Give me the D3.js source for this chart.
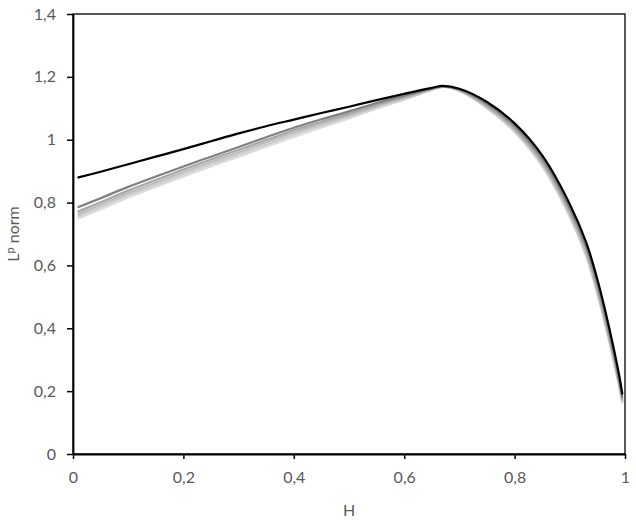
<!DOCTYPE html>
<html>
<head>
<meta charset="utf-8">
<script src="https://cdn.jsdelivr.net/npm/d3@7"></script>
<style>
  html, body { margin: 0; padding: 0; background: #fff; }
  svg { display: block; }
  text { font-family: Lato, "Open Sans", "Liberation Sans", sans-serif; fill: #595959; }
</style>
</head>
<body>
<svg id="chart" width="636" height="525"></svg>
<script>
// ---- Data ----
const H = [0.01,0.05,0.1,0.15,0.2,0.25,0.3,0.35,0.4,0.45,0.5,0.55,0.6,0.65,0.67,0.7,0.75,0.8,0.85,0.9,0.93,0.95,0.97,0.99,0.995];

const seriesBlack = [0.880,0.898,0.922,0.946,0.970,0.995,1.020,1.043,1.064,1.085,1.105,1.126,1.146,1.165,1.171,1.162,1.120,1.052,0.950,0.795,0.672,0.555,0.412,0.245,0.192];
const seriesDarkGray = [0.786,0.814,0.850,0.883,0.915,0.946,0.977,1.008,1.038,1.065,1.090,1.117,1.140,1.163,1.170,1.160,1.114,1.044,0.940,0.783,0.658,0.541,0.398,0.232,0.182];
const seriesGray1 = [0.772,0.801,0.838,0.872,0.905,0.937,0.968,0.999,1.030,1.057,1.083,1.111,1.136,1.161,1.169,1.158,1.108,1.036,0.930,0.771,0.646,0.527,0.384,0.222,0.175];
const seriesGray2 = [0.764,0.793,0.830,0.864,0.897,0.929,0.960,0.992,1.023,1.051,1.078,1.107,1.133,1.160,1.169,1.157,1.105,1.032,0.925,0.765,0.639,0.520,0.378,0.217,0.171];
const seriesGray3 = [0.757,0.786,0.823,0.857,0.890,0.922,0.953,0.985,1.016,1.045,1.073,1.103,1.130,1.159,1.168,1.156,1.102,1.028,0.920,0.759,0.632,0.513,0.372,0.212,0.167];
const seriesGray4 = [0.750,0.779,0.816,0.850,0.883,0.915,0.946,0.978,1.009,1.039,1.068,1.099,1.127,1.158,1.168,1.155,1.100,1.024,0.915,0.753,0.626,0.507,0.367,0.208,0.164];

const xTicks = [0,0.2,0.4,0.6,0.8,1];
const yTicks = [0,0.2,0.4,0.6,0.8,1,1.2,1.4];
const xTitle = "H";

// ---- Layout ----
const svg = d3.select("#chart");
const pL = 73, pR = 625, pT = 14, pB = 454;

const x = d3.scaleLinear().domain([0,1]).range([pL,pR]);
const y = d3.scaleLinear().domain([0,1.4]).range([pB,pT]);
const fmt = d => String(d).replace(".", ",");

// frame (top/right)
svg.append("rect")
  .attr("x", pL).attr("y", pT)
  .attr("width", pR-pL).attr("height", pB-pT)
  .attr("fill","none").attr("stroke","#000").attr("stroke-width",1.3);

// lines (lightest first)
const lineDefs = [
  {data: seriesGray4, color: "#dcdcdc"},
  {data: seriesGray3, color: "#cdcdcd"},
  {data: seriesGray2, color: "#bdbdbd"},
  {data: seriesGray1, color: "#a8a8a8"},
  {data: seriesDarkGray, color: "#808080"},
  {data: seriesBlack, color: "#000000"}
];
const line = d3.line()
  .x((d,i) => x(H[i]))
  .y(d => y(d))
  .curve(d3.curveCatmullRom.alpha(0.5));

svg.append("g").selectAll("path")
  .data(lineDefs)
  .join("path")
  .attr("d", d => line(d.data))
  .attr("fill","none")
  .attr("stroke", d => d.color)
  .attr("stroke-width", 2.2)
  .attr("stroke-linejoin","round")
  .attr("stroke-linecap","round");

// axes
const xAxis = svg.append("g")
  .attr("transform", `translate(0,${pB})`)
  .call(d3.axisBottom(x).tickValues(xTicks).tickFormat(fmt).tickSizeInner(5).tickSizeOuter(0).tickPadding(13));
const yAxis = svg.append("g")
  .attr("transform", `translate(${pL},0)`)
  .call(d3.axisLeft(y).tickValues(yTicks).tickFormat(fmt).tickSizeInner(6).tickSizeOuter(0).tickPadding(11));

[xAxis, yAxis].forEach(g => {
  g.select(".domain").attr("stroke","#000").attr("stroke-width",1.8);
  g.selectAll(".tick line").attr("stroke","#000").attr("stroke-width",1.5);
  g.selectAll(".tick text").attr("fill","#595959").style("font-size","16px")
    .style("font-family","Lato, 'Open Sans', sans-serif");
});

// axis titles
svg.append("text")
  .attr("x", (pL+pR)/2).attr("y", 516)
  .attr("text-anchor","middle")
  .style("font-size","16px")
  .text(xTitle);

const yt = svg.append("text")
  .attr("transform", `translate(19,${(pT+pB)/2}) rotate(-90)`)
  .attr("text-anchor","middle")
  .style("font-size","16px");
yt.append("tspan").text("L");
yt.append("tspan").attr("dy",-5).style("font-size","11px").text("p");
yt.append("tspan").attr("dy",5).text(" norm");
</script>
</body>
</html>
